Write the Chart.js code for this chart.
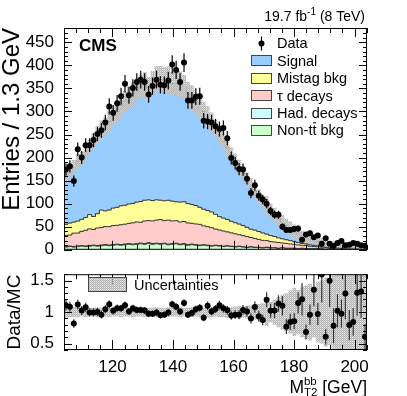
<!DOCTYPE html>
<html><head><meta charset="utf-8">
<script src="https://cdn.jsdelivr.net/npm/chart.js@4.4.0/dist/chart.umd.min.js"></script>
<style>
html,body{margin:0;padding:0;background:#fff;}
#wrap{position:relative;width:407px;height:396px;overflow:hidden;background:#fff;}
.box{position:absolute;left:0;width:407px;}
canvas{display:block;}
</style></head><body>
<div id="wrap">
<div class="box" style="top:0;height:262px"><canvas id="c1" width="407" height="262"></canvas></div>
<div class="box" style="top:262px;height:134px"><canvas id="c2" width="407" height="134"></canvas></div>
</div>
<script>
// ---------- data ----------
const binLow = 104, binWidth = 1.3, nBins = 77;
const xMin = 104, xMax = 204.1;
const xTicks = [120, 140, 160, 180, 200];
const xTickLabels = ['120', '140', '160', '180', '200'];
const mainYTicks = [0, 50, 100, 150, 200, 250, 300, 350, 400, 450];
const mainYLabels = ['0', '50', '100', '150', '200', '250', '300', '350', '400', '450'];
const ratioYTicks = [0.5, 1, 1.5];
const ratioYLabels = ['0.5', '1', '1.5'];
const legendLabels = ['Data', 'Signal', 'Mistag bkg', '\u03C4 decays', 'Had. decays', 'Non-tt bkg'];

const dataCounts = [174,181,149,218,200,227,227,238,251,259,
 276,311,297,318,333,360,335,351,364,369,
 364,337,355,369,358,357,367,402,390,364,
 406,324,324,332,333,280,278,276,268,262,
 264,242,199,188,175,174,154,123,140,117,
 109,100,84,76,76,50,43,43,45,46,
 22,33,36,27,31,13,25,13,8,15,
 19,10,11,15,13,10,9];

const nonTT = [6,7,6,7,8,7,8,9,8,9,
 10,9,10,11,10,11,12,11,12,13,
 12,14,12,13,12,13,11,12,13,11,
 12,10,11,10,9,10,9,8,9,8,
 7,8,7,6,7,6,5,6,5,5,
 4,5,4,4,3,4,3,3,3,2,
 3,2,2,2,2,2,1,2,1,1,
 1,1,1,1,1,1,1];

const hadDecays = [1.2,1.0,1.1,1.3,1.0,1.2,1.4,1.1,1.3,1.2,
 1.4,1.3,1.5,1.2,1.4,1.6,1.3,1.5,1.4,1.6,
 1.5,1.3,1.6,1.4,1.5,1.3,1.4,1.5,1.2,1.4,
 1.3,1.2,1.4,1.1,1.2,1.0,1.1,0.9,1.0,0.9,
 0.8,0.9,0.8,0.7,0.8,0.7,0.6,0.7,0.6,0.5,
 0.5,0.5,0.4,0.4,0.4,0.3,0.3,0.3,0.3,0.2,
 0.2,0.2,0.2,0.2,0.2,0.1,0.1,0.1,0.1,0.1,
 0.1,0.1,0.1,0.1,0.1,0.1,0.1];

const tauDecays = [24,24,29,28,31,34,36,34,38,38,
 39,40,41,41,43,43,44,46,47,45,
 49,48,49,50,52,49,52,49,49,48,
 48,47,45,45,45,41,40,39,35,34,
 33,30,29,28,25,24,23,20,19,17,
 16,14.5,13.5,12.5,12.5,10.5,10.5,9.5,8.5,8.5,
 6.5,7,5.5,5,4.5,3.5,4,2.5,3,2.5,
 2,1.7,1.5,1.3,1,0.7,0.5];

const mistagBkg = [24,26,24,26,26,28,31,28,31,38,
 34,36,38,39,41,41,42,42,43,45,
 45,45,44,44,42,43,43,43,41,43,
 43,42,41,40,37,36,35,34,32,29,
 28,27,25,24,23,22,20,18,18,17,
 16,14,13,12,10,9,8,7,6,5,
 4,3.5,3,2.5,2,2,1.5,1.5,1.5,1.5,
 1.5,1.6,1.5,1.4,1.5,1.6,1.5];

const signal = [103,110,120,130,132,140,148,164,170,176,
 184,192,200,208,217,226,233,236,245,250,
 249,242,256,260,265,264,261,255,256,255,
 250,240,232,222,218,212,203,194,187,178,
 167,156,144,133,122,113,104,96,85,76,
 67,61,55,47,41,35,30,26,22,19,
 16,13,13,11,10,9,8,6.5,6,5.5,
 5,4.2,4,3.8,3.5,3.2,3];

const ratio = [1.11,1.085,0.82,1.12,1.025,1.075,0.995,0.995,1.0,0.96,
 1.045,1.125,1.02,1.06,1.06,1.11,1.01,1.06,1.035,1.035,
 1.025,0.975,0.975,0.995,0.95,0.96,0.995,1.125,1.085,1.01,
 1.145,0.96,0.985,1.045,1.07,0.91,1.10,1.01,1.05,1.11,
 1.06,1.03,0.945,0.96,0.96,1.035,1.01,0.90,1.08,0.935,
 0.875,1.195,1.02,1.025,1.135,1.10,0.77,0.845,0.855,1.145,
 1.205,0.685,0.96,1.355,0.97,1.595,0.61,1.495,0.785,1.02,
 0.975,1.295,0.795,0.845,1.305,1.325,0.61];

const relUnc = [0.09,0.08,0.08,0.08,0.07,0.08,0.07,0.07,0.08,0.07,
 0.07,0.08,0.07,0.07,0.08,0.07,0.07,0.08,0.07,0.07,
 0.08,0.07,0.07,0.08,0.07,0.07,0.08,0.07,0.07,0.08,
 0.07,0.07,0.08,0.07,0.08,0.07,0.08,0.08,0.07,0.08,
 0.08,0.09,0.08,0.09,0.10,0.09,0.10,0.11,0.12,0.13,
 0.14,0.22,0.16,0.20,0.24,0.28,0.30,0.34,0.38,0.35,
 0.40,0.42,0.45,0.40,0.48,0.50,0.55,0.52,0.58,0.60,
 0.60,0.58,0.60,0.62,0.60,0.62,0.60];

// ---------- helpers ----------
const FONT = "'Liberation Sans', Arial, Helvetica, sans-serif";
Chart.defaults.font.family = FONT;
Chart.defaults.color = '#000';
const f = (s, b) => (b ? 'bold ' : '') + s + 'px ' + FONT;

const edges = Array.from({length: nBins + 1}, (_, i) => binLow + i * binWidth);
const centers = Array.from({length: nBins}, (_, i) => binLow + (i + 0.5) * binWidth);
function stepPts(vals) {
  const p = vals.map((v, i) => ({x: edges[i], y: v}));
  p.push({x: edges[nBins], y: vals[nBins - 1]});
  return p;
}
const layers = [
  {vals: nonTT, color: '#ccffcc'},
  {vals: hadDecays, color: '#ccffff'},
  {vals: tauDecays, color: '#ffcccc'},
  {vals: mistagBkg, color: '#ffff99'},
  {vals: signal, color: '#99ccff'}
];
let run = new Array(nBins).fill(0);
const cumTops = layers.map(l => { run = run.map((c, i) => c + l.vals[i]); return run.slice(); });
const mcTotal = cumTops[cumTops.length - 1];
const bandUp = mcTotal.map((m, i) => m * (1 + relUnc[i]));
const bandDn = mcTotal.map((m, i) => m * (1 - relUnc[i]));
const rBandUp = relUnc.map(u => 1 + u);
const rBandDn = relUnc.map(u => 1 - u);

function makePattern() {
  const c = document.createElement('canvas'); c.width = 2; c.height = 2;
  const g = c.getContext('2d');
  g.fillStyle = '#b4b4b4'; g.fillRect(0, 0, 1, 1); g.fillRect(1, 1, 1, 1);
  g.fillStyle = '#cdcdcd'; g.fillRect(1, 0, 1, 1);
  g.fillStyle = 'rgba(220,220,220,0.6)'; g.fillRect(0, 1, 1, 1);
  return c.getContext('2d').createPattern(c, 'repeat');
}
const pattern = makePattern();

function frameTicks(chart, yStep, yMajorEvery, yLenMaj, yLenMin, xLenMaj, xLenMin) {
  const {ctx, chartArea: a, scales} = chart;
  const xs = scales.x, ys = scales.y;
  ctx.save();
  ctx.strokeStyle = '#000'; ctx.lineWidth = 1;
  ctx.strokeRect(a.left + 0.5, a.top + 0.5, a.right - a.left - 1, a.bottom - a.top - 1);
  ctx.beginPath();
  const k0 = Math.ceil(ys.min / yStep - 1e-6), k1 = Math.floor(ys.max / yStep + 1e-6);
  for (let k = k0; k <= k1; k++) {
    const py = Math.round(ys.getPixelForValue(k * yStep)) + 0.5;
    const len = (k % yMajorEvery === 0) ? yLenMaj : yLenMin;
    ctx.moveTo(a.left, py); ctx.lineTo(a.left + len, py);
    ctx.moveTo(a.right, py); ctx.lineTo(a.right - len, py);
  }
  for (let k = Math.ceil(xs.min / 4); k * 4 <= xs.max; k++) {
    const px = Math.round(xs.getPixelForValue(k * 4)) + 0.5;
    const len = ((k * 4) % 20 === 0) ? xLenMaj : xLenMin;
    ctx.moveTo(px, a.bottom); ctx.lineTo(px, a.bottom - len);
    ctx.moveTo(px, a.top); ctx.lineTo(px, a.top + len);
  }
  ctx.stroke();
  ctx.restore();
}

function errBars(chart, vals, errs, color) {
  const {ctx, chartArea: a, scales} = chart;
  ctx.save();
  ctx.beginPath(); ctx.rect(a.left, a.top, a.right - a.left, a.bottom - a.top); ctx.clip();
  ctx.strokeStyle = color; ctx.lineWidth = 1.2;
  ctx.beginPath();
  vals.forEach((v, i) => {
    const px = scales.x.getPixelForValue(centers[i]);
    ctx.moveTo(px, scales.y.getPixelForValue(v - errs[i]));
    ctx.lineTo(px, scales.y.getPixelForValue(v + errs[i]));
  });
  ctx.stroke();
  ctx.restore();
}

const lineDS = (pts, extra) => Object.assign({type: 'line', data: pts, stepped: 'before', pointRadius: 0, tension: 0, borderWidth: 1, borderColor: '#333'}, extra);

// ---------- main chart ----------
const mainDeco = {
  id: 'mainDeco',
  beforeDatasetDraw(chart, args) {
    if (args.index === 0) errBars(chart, dataCounts, dataCounts.map(v => Math.sqrt(v)), '#000');
  },
  afterDraw(chart) {
    frameTicks(chart, 10, 5, 8, 4, 9, 5);
    const ctx = chart.ctx;
    ctx.save();
    ctx.fillStyle = '#000'; ctx.textAlign = 'left'; ctx.textBaseline = 'alphabetic';
    ctx.font = f(17, true); ctx.fillText('CMS', 79, 51);
    const p1 = '19.7 fb', sup = '-1', p3 = ' (8 TeV)';
    ctx.font = f(14); const w1 = ctx.measureText(p1).width, w3 = ctx.measureText(p3).width;
    ctx.font = f(10); const w2 = ctx.measureText(sup).width;
    let x = 365 - (w1 + w2 + w3);
    ctx.font = f(14); ctx.fillText(p1, x, 21); x += w1;
    ctx.font = f(10); ctx.fillText(sup, x, 15); x += w2;
    ctx.font = f(14); ctx.fillText(p3, x, 21);
    // legend
    const rows = [48.3, 65.7, 83.1, 100.5, 117.9, 135.3];
    const cols = [null, layers[4].color, layers[3].color, layers[2].color, layers[1].color, layers[0].color];
    ctx.font = f(14.5);
    rows.forEach((b, i) => {
      const cy = b - 4.8;
      if (i === 0) {
        ctx.beginPath(); ctx.arc(261.5, cy, 3, 0, Math.PI * 2); ctx.fill();
        ctx.beginPath(); ctx.lineWidth = 1.2; ctx.strokeStyle = '#000';
        ctx.moveTo(261.5, cy - 7); ctx.lineTo(261.5, cy + 7); ctx.stroke();
      } else {
        ctx.fillStyle = cols[i]; ctx.fillRect(251, Math.round(cy - 5.5), 21, 11);
        ctx.strokeStyle = '#444'; ctx.lineWidth = 1;
        ctx.strokeRect(251.5, Math.round(cy - 5.5) + 0.5, 20, 10);
        ctx.fillStyle = '#000';
      }
      ctx.fillText(legendLabels[i], 277, b);
    });
    // overbar on second t of "Non-tt"
    const xa = 277 + ctx.measureText('Non-t').width, xb = 277 + ctx.measureText('Non-tt').width;
    ctx.beginPath(); ctx.lineWidth = 1; ctx.strokeStyle = '#000';
    ctx.moveTo(xa + 0.5, rows[5] - 12.5); ctx.lineTo(xb - 0.3, rows[5] - 12.5); ctx.stroke();
    ctx.restore();
  }
};

new Chart(document.getElementById('c1'), {
  type: 'line',
  data: {datasets: [
    {type: 'line', data: centers.map((x, i) => ({x, y: dataCounts[i]})), showLine: false, pointRadius: 3, pointBackgroundColor: '#000', pointBorderWidth: 0, borderColor: '#000'},
    lineDS(stepPts(bandUp), {fill: '+1', backgroundColor: pattern, borderWidth: 0}),
    lineDS(stepPts(bandDn), {fill: false, borderWidth: 0}),
    lineDS(stepPts(cumTops[0]), {fill: 'origin', backgroundColor: layers[0].color}),
    lineDS(stepPts(cumTops[1]), {fill: 'origin', backgroundColor: layers[1].color}),
    lineDS(stepPts(cumTops[2]), {fill: 'origin', backgroundColor: layers[2].color}),
    lineDS(stepPts(cumTops[3]), {fill: 'origin', backgroundColor: layers[3].color}),
    lineDS(stepPts(cumTops[4]), {fill: 'origin', backgroundColor: layers[4].color})
  ]},
  options: {
    responsive: false, animation: false, events: [],
    layout: {padding: {top: 28, right: 40, bottom: 4, left: 0}},
    plugins: {legend: {display: false}, tooltip: {enabled: false}},
    scales: {
      x: {type: 'linear', min: xMin, max: xMax, display: false},
      y: {type: 'linear', min: 0, max: 481,
        afterFit: s => { s.width = 64; },
        afterBuildTicks: s => { s.ticks = mainYTicks.map(v => ({value: v})); },
        ticks: {padding: 2, font: {size: 17}, color: '#000', callback: (v, i) => mainYLabels[i]},
        grid: {display: false}, border: {display: false},
        title: {display: true, text: 'Entries / 1.3 GeV', align: 'end', color: '#000', font: {size: 24, lineHeight: 1}, padding: {top: 0, bottom: 0}}
      }
    }
  },
  plugins: [mainDeco]
});

// ---------- ratio chart ----------
const ratioDeco = {
  id: 'ratioDeco',
  beforeDatasetDraw(chart, args) {
    if (args.index === 0) errBars(chart, ratio, ratio.map((r, i) => r / Math.sqrt(dataCounts[i])), '#333');
  },
  afterDraw(chart) {
    frameTicks(chart, 0.1, 5, 8, 4, 10, 5);
    const ctx = chart.ctx;
    ctx.save();
    ctx.fillStyle = pattern; ctx.fillRect(88, 15, 39, 15);
    ctx.strokeStyle = '#444'; ctx.lineWidth = 1; ctx.strokeRect(88.5, 15.5, 38, 14);
    ctx.fillStyle = '#000'; ctx.font = f(14.5); ctx.textBaseline = 'alphabetic'; ctx.textAlign = 'left';
    ctx.fillText('Uncertainties', 134, 27.5);
    // x title: M_T2^bb [GeV]
    ctx.font = f(17.5); const gev = ' [GeV]'; const wg = ctx.measureText(gev).width; const wm = ctx.measureText('M').width;
    ctx.font = f(11.5); const ws = Math.max(ctx.measureText('bb').width, ctx.measureText('T2').width);
    const xg = 367 - wg, xs = xg - ws, xm = xs - wm;
    const base = 131;
    ctx.font = f(17.5); ctx.fillText('M', xm, base); ctx.fillText(gev, xg, base);
    ctx.font = f(11.5); ctx.fillText('bb', xs, base - 8.5); ctx.fillText('T2', xs, base + 3);
    ctx.restore();
  }
};

new Chart(document.getElementById('c2'), {
  type: 'line',
  data: {datasets: [
    {type: 'line', data: centers.map((x, i) => ({x, y: ratio[i]})), showLine: false, pointRadius: 3, pointBackgroundColor: '#000', pointBorderWidth: 0, borderColor: '#000'},
    lineDS(stepPts(rBandUp), {fill: '+1', backgroundColor: pattern, borderWidth: 0}),
    lineDS(stepPts(rBandDn), {fill: false, borderWidth: 0})
  ]},
  options: {
    responsive: false, animation: false, events: [],
    layout: {padding: {top: 4, right: 40, bottom: 0, left: 0}},
    plugins: {legend: {display: false}, tooltip: {enabled: false}},
    scales: {
      x: {type: 'linear', min: xMin, max: xMax,
        afterFit: s => { s.height = 46; },
        afterBuildTicks: s => { s.ticks = xTicks.map(v => ({value: v})); },
        ticks: {padding: -1, font: {size: 17}, color: '#000', maxRotation: 0, autoSkip: false, callback: (v, i) => xTickLabels[i]},
        grid: {display: false}, border: {display: false}
      },
      y: {type: 'linear', min: 0.4, max: 1.6,
        afterFit: s => { s.width = 64; },
        afterBuildTicks: s => { s.ticks = ratioYTicks.map(v => ({value: v})); },
        ticks: {padding: 2, font: {size: 17}, color: '#000', callback: (v, i) => ratioYLabels[i]},
        grid: {display: false}, border: {display: false},
        title: {display: true, text: 'Data/MC', align: 'center', color: '#000', font: {size: 19, lineHeight: 1}, padding: {top: 5.5, bottom: 0}}
      }
    }
  },
  plugins: [ratioDeco]
});
</script>
</body></html>
